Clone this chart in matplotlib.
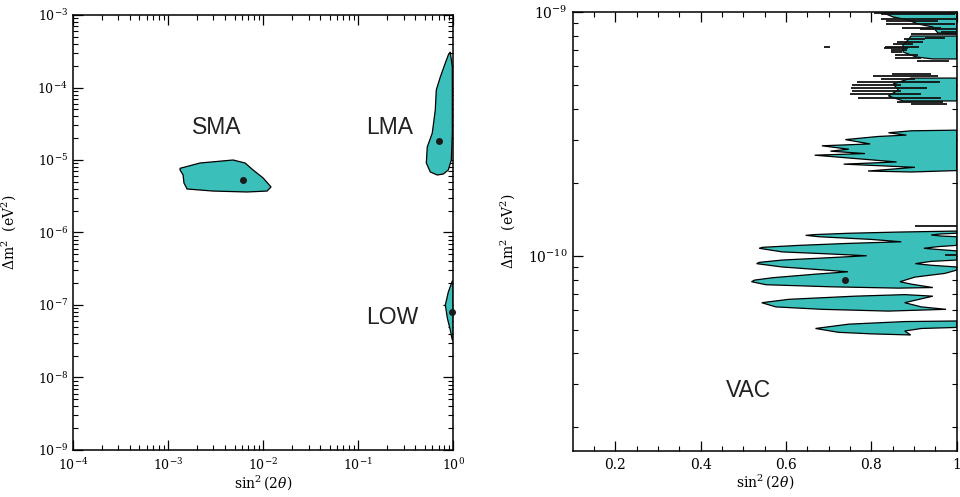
import matplotlib
matplotlib.use("Agg")
import matplotlib.pyplot as plt
from matplotlib.ticker import LogLocator, NullFormatter, LogFormatterMathtext, FixedLocator, FixedFormatter

plt.rcParams['font.family'] = ['DejaVu Serif']
plt.rcParams['mathtext.fontset'] = 'dejavuserif'

TEAL = '#3bbfba'

# ---- left panel: allowed regions (sin^2(2theta), dm^2 in eV^2) ----
sma_x = [1.337e-3, 2.17e-3, 4.83e-3, 6.46e-3, 7.84e-3, 1.0e-2, 1.21e-2, 1.10e-2,
         6.79e-3, 2.98e-3, 1.585e-3, 1.47e-3, 1.44e-3, 1.337e-3]
sma_y = [7.68e-6, 9.09e-6, 1.0e-5, 9.09e-6, 7.28e-6, 5.65e-6, 4.25e-6, 3.73e-6,
         3.62e-6, 3.73e-6, 3.98e-6, 4.82e-6, 6.21e-6, 7.28e-6]

lma_x = [0.929, 0.976, 0.976, 0.953, 0.886, 0.785, 0.679, 0.573, 0.52, 0.532,
         0.601, 0.646, 0.662, 0.73, 0.824, 0.886]
lma_y = [3.09e-4, 1.92e-4, 2.36e-5, 1.0e-5, 7.28e-6, 6.41e-6, 6.21e-6, 6.83e-6,
         9.09e-6, 1.51e-5, 2.36e-5, 4.9e-5, 9.24e-5, 1.40e-4, 2.18e-4, 2.81e-4]

low_x = [0.976, 0.886, 0.824, 0.865, 0.929, 0.976, 1.0, 1.0]
low_y = [2.14e-7, 1.51e-7, 1.0e-7, 6.62e-8, 4.52e-8, 3.29e-8, 3.29e-8, 2.14e-7]

best_left_x = [6.15e-3, 0.712, 0.969]
best_left_y = [5.3e-6, 1.83e-5, 7.93e-8]

left_labels = ['SMA', 'LMA', 'LOW']
left_label_x = [3.28e-3, 0.212, 0.228]
left_label_y = [2.85e-5, 2.85e-5, 6.82e-8]

left_xticks = [1e-4, 1e-3, 1e-2, 1e-1, 1]

# ---- right panel: vacuum region, dm^2 in units of 1e-10 eV^2 ----
vac_main_x = [1.0, 0.863, 0.747, 0.669, 0.646, 0.677, 0.80, 0.870, 0.747, 0.630,
              0.545, 0.537, 0.591, 0.708, 0.789, 0.708, 0.591, 0.537, 0.531, 0.591,
              0.692, 0.745, 0.669, 0.568, 0.526, 0.519, 0.553, 0.708, 0.863, 0.944,
              0.894, 0.867, 0.902, 0.972, 1.0, 1.0, 0.94, 0.903, 0.94, 1.0,
              1.0, 0.956, 0.923, 0.956, 1.0, 1.0, 0.963, 0.940, 0.963, 1.0]
vac_main_y = [1.266, 1.254, 1.24, 1.225, 1.216, 1.2, 1.17, 1.144, 1.127, 1.106,
              1.086, 1.076, 1.04, 1.019, 1.003, 0.986, 0.963, 0.942, 0.931, 0.902,
              0.876, 0.862, 0.843, 0.815, 0.797, 0.785, 0.763, 0.748, 0.739, 0.743,
              0.767, 0.785, 0.820, 0.849, 0.876, 0.902, 0.917, 0.931, 0.951, 0.963,
              1.05, 1.064, 1.076, 1.093, 1.106, 1.2, 1.208, 1.22, 1.232, 1.24]

vac_lobe5_x = [0.543, 0.607, 0.762, 0.878, 0.944, 0.878, 0.917, 0.975, 0.840, 0.684, 0.576]
vac_lobe5_y = [0.644, 0.665, 0.685, 0.695, 0.685, 0.644, 0.619, 0.605, 0.595, 0.605, 0.619]

vac_lobe6_x = [0.669, 0.747, 0.878, 1.0, 1.0, 0.917, 0.878, 0.892, 0.80, 0.723]
vac_lobe6_y = [0.505, 0.526, 0.539, 0.542, 0.51, 0.505, 0.493, 0.475, 0.48, 0.487]

vac_a_x = [1.0, 0.894, 0.84, 0.882, 0.816, 0.739, 0.797, 0.684, 0.747, 0.704,
           0.785, 0.667, 0.859, 0.735, 0.902, 0.792, 0.894, 1.0]
vac_a_y = [3.28, 3.26, 3.20, 3.13, 3.09, 3.00, 2.88, 2.83, 2.74, 2.69,
           2.63, 2.59, 2.43, 2.38, 2.31, 2.23, 2.21, 2.24]

vac_b_x = [1.0, 0.893, 0.851, 0.863, 0.840, 0.874, 1.0]
vac_b_y = [5.36, 5.36, 5.07, 4.79, 4.53, 4.32, 4.32]

vac_c1_x = [0.828, 1.0, 1.0, 0.956, 0.944, 0.909, 0.886, 0.851, 0.828]
vac_c1_y = [10.0, 10.0, 8.13, 8.20, 8.68, 8.93, 9.27, 9.54, 9.91]

vac_c2_x = [0.893, 1.0, 1.0, 0.944, 0.905, 0.874, 0.874, 0.886]
vac_c2_y = [7.97, 7.97, 6.42, 6.42, 6.54, 6.86, 7.32, 7.68]

# thin island strips (show up as black lines)
strip_y = [9.88, 9.78, 9.36, 9.21, 8.93, 8.62, 8.49, 8.25, 8.13, 7.80, 7.73, 7.56,
           7.39, 7.21, 7.10, 6.96, 6.83, 6.67, 6.50, 6.32, 5.57, 5.47, 5.31, 5.15,
           5.02, 4.87, 4.76, 4.60, 4.43, 4.29, 4.20, 7.20, 1.33, 1.006]
strip_x0 = [0.805, 0.823, 0.823, 0.835, 0.835, 0.872, 0.913, 0.963, 0.893, 0.925, 0.877, 0.859,
            0.851, 0.832, 0.830, 0.846, 0.847, 0.855, 0.855, 0.908, 0.849, 0.803, 0.822, 0.766,
            0.754, 0.753, 0.754, 0.749, 0.768, 0.861, 0.892, 0.690, 0.902, 0.972]
strip_x1 = [1.0, 0.995, 1.0, 0.956, 0.995, 0.963, 1.0, 1.0, 1.0, 0.972, 0.925, 0.920,
            0.898, 0.911, 0.886, 0.884, 0.872, 0.909, 0.917, 0.983, 0.940, 0.956, 0.902, 0.960,
            0.870, 0.931, 0.870, 0.916, 0.963, 0.967, 0.977, 0.702, 1.0, 1.0]

best_vac_x = [0.737]
best_vac_y = [0.795]

vac_label_x, vac_label_y = 0.511, 0.282

right_xticks = [0.2, 0.4, 0.6, 0.8, 1.0]
right_xticklabels = ['0.2', '0.4', '0.6', '0.8', '1']

SCALE = 1e-10


def style_axes(ax, size):
    ax.tick_params(which='both', direction='in', top=True, right=True, labelsize=size)
    ax.tick_params(which='major', length=7, width=0.9)
    ax.tick_params(which='minor', length=3.5, width=0.8)
    ax.tick_params(axis='x', which='both', pad=5)
    for s in ax.spines.values():
        s.set_linewidth(1.1)


def region(ax, xs, ys, scale=1.0):
    ax.fill([x for x in xs], [y * scale for y in ys], facecolor=TEAL,
            edgecolor='black', linewidth=0.9, zorder=2)


fig = plt.figure(figsize=(9.6, 4.97), dpi=100)

# left panel
ax1 = fig.add_axes([0.0760, 0.0946, 0.3962, 0.8752])
ax1.set_xscale('log')
ax1.set_yscale('log')
ax1.set_xlim(1e-4, 1)
ax1.set_ylim(1e-9, 1e-3)
region(ax1, sma_x, sma_y)
region(ax1, lma_x, lma_y)
region(ax1, low_x, low_y)
ax1.plot(best_left_x, best_left_y, 'o', color='#1a1a1a', markersize=4, zorder=3, clip_on=False)
for t, x, y in zip(left_labels, left_label_x, left_label_y):
    ax1.text(x, y, t, family='Liberation Sans', fontsize=16.5, color='#222222',
             ha='center', va='center')
ax1.xaxis.set_major_locator(FixedLocator(left_xticks))
ax1.xaxis.set_major_formatter(LogFormatterMathtext())
ax1.xaxis.set_minor_locator(LogLocator(base=10, subs=range(2, 10), numticks=20))
ax1.yaxis.set_minor_locator(LogLocator(base=10, subs=range(2, 10), numticks=20))
ax1.xaxis.set_minor_formatter(NullFormatter())
ax1.yaxis.set_minor_formatter(NullFormatter())
style_axes(ax1, 9)
ax1.set_xlabel(r'$\sin^2(2\theta)$', fontsize=10, labelpad=0)
ax1.set_ylabel(r'$\Delta\mathrm{m}^2\ \ (\mathrm{eV}^2)$', fontsize=10)
ax1.yaxis.set_label_coords(-0.145, 0.5)

# right panel
ax2 = fig.add_axes([0.5966, 0.0926, 0.4, 0.8833])
ax2.set_yscale('log')
ax2.set_xlim(0.1, 1.0)
ax2.set_ylim(1.59e-11, 1e-9)
for xs, ys in [(vac_main_x, vac_main_y), (vac_lobe5_x, vac_lobe5_y),
               (vac_lobe6_x, vac_lobe6_y), (vac_a_x, vac_a_y), (vac_b_x, vac_b_y),
               (vac_c1_x, vac_c1_y), (vac_c2_x, vac_c2_y)]:
    region(ax2, xs, ys, SCALE)
ax2.hlines([y * SCALE for y in strip_y], strip_x0, strip_x1, colors='#111111',
           linewidth=1.3, zorder=3)
ax2.plot(best_vac_x, [y * SCALE for y in best_vac_y], 'o', color='#1a1a1a',
         markersize=4, zorder=4)
ax2.text(vac_label_x, vac_label_y * SCALE, 'VAC', family='Liberation Sans', fontsize=16.5,
         color='#222222', ha='center', va='center')
ax2.xaxis.set_major_locator(FixedLocator(right_xticks))
ax2.xaxis.set_major_formatter(FixedFormatter(right_xticklabels))
ax2.xaxis.set_minor_locator(FixedLocator([0.15 + 0.05 * i for i in range(17)]))
ax2.yaxis.set_major_locator(LogLocator(base=10))
ax2.yaxis.set_major_formatter(LogFormatterMathtext())
ax2.yaxis.set_minor_locator(LogLocator(base=10, subs=range(2, 10), numticks=20))
ax2.yaxis.set_minor_formatter(NullFormatter())
style_axes(ax2, 10)
ax2.set_xlabel(r'$\sin^2(2\theta)$', fontsize=10, labelpad=0)
ax2.set_ylabel(r'$\Delta\mathrm{m}^2\ \ (\mathrm{eV}^2)$', fontsize=10)
ax2.yaxis.set_label_coords(-0.145, 0.5)

fig.savefig('out.png', dpi=100)
